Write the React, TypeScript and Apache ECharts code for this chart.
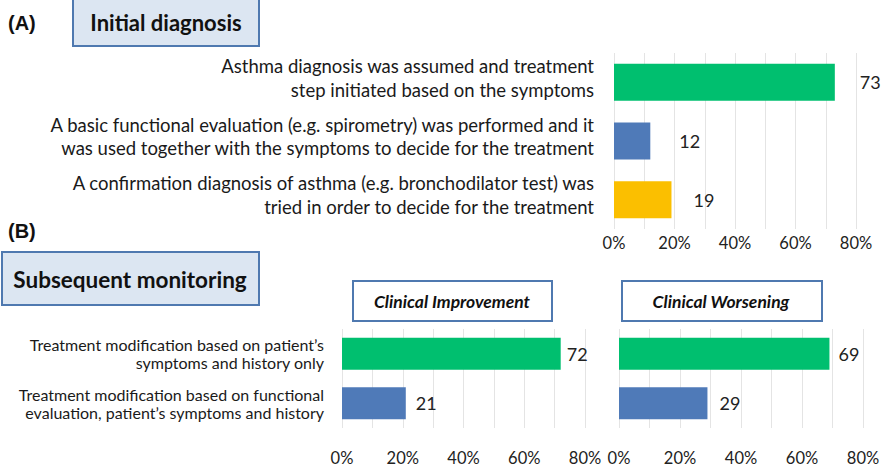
import React, { useEffect, useRef } from "react";
import * as echarts from "echarts";

const categoriesA = [
  "Asthma diagnosis was assumed and treatment\nstep initiated based on the symptoms",
  "A basic functional evaluation (e.g. spirometry) was performed and it\nwas used together with the symptoms to decide for the treatment",
  "A confirmation diagnosis of asthma (e.g. bronchodilator test) was\ntried in order to decide for the treatment",
];
const valuesA = [73, 12, 19];
const labelGapA = [25, 29, 22];
const colorsA = ["#00bf6f", "#4f7ab8", "#fbbf00"];

const categoriesB = [
  "Treatment modification based on patient’s\nsymptoms and history only",
  "Treatment modification based on functional\nevaluation, patient’s symptoms and history",
];
const improvement = [72, 21];
const worsening = [69, 29];
const labelGapImp = [6, 10];
const labelGapWor = [9, 12];
const colorsB = ["#00bf6f", "#4f7ab8"];

const FONT = "Lato";
const BOX_STROKE = "#4f79b0";

function xAxis(gridIndex: number, margin: number) {
  return {
    type: "value",
    gridIndex,
    min: 0,
    max: 80,
    interval: 10,
    axisLine: { show: false },
    axisTick: { show: false },
    splitLine: { show: true, lineStyle: { color: "#e4e4e4", width: 1 } },
    axisLabel: {
      margin,
      fontFamily: FONT,
      fontSize: 16.5,
      color: "#222",
      formatter: (v: number) => (v % 20 === 0 ? v + "%" : ""),
    },
  };
}

function barData(vals: number[], colors: string[], gaps: number[]) {
  return vals.map((v, i) => ({
    value: v,
    itemStyle: { color: colors[i] },
    label: { distance: gaps[i] },
  }));
}

const barLabel = {
  show: true,
  position: "right",
  fontFamily: FONT,
  fontSize: 18,
  color: "#222",
};

export default function App() {
  const ref = useRef<HTMLDivElement>(null);
  useEffect(() => {
    if (!ref.current) return;
    const chart = echarts.init(ref.current, null, { renderer: "svg" });
    chart.setOption({
      animation: false,
      backgroundColor: "#ffffff",
      grid: [
        { left: 614, width: 242, top: 53, height: 176 },
        { left: 342, width: 243, top: 329, height: 100 },
        { left: 619, width: 244, top: 329, height: 100 },
      ],
      xAxis: [xAxis(0, 5), xAxis(1, 21), xAxis(2, 21)],
      yAxis: [
        {
          type: "category",
          gridIndex: 0,
          inverse: true,
          data: categoriesA,
          axisLine: { show: false },
          axisTick: { show: false },
          axisLabel: {
            margin: 20,
            align: "right",
            formatter: (v: string) =>
              v
                .split("\n")
                .map((s) => "{t|" + s + "}")
                .join("\n") + "\n{s| }",
            rich: {
              t: {
                fontFamily: FONT,
                fontSize: 18.5,
                lineHeight: 23.5,
                color: "#1a1a1a",
                align: "right",
              },
              s: { fontSize: 4, lineHeight: 9, align: "right" },
            },
          },
        },
        {
          type: "category",
          gridIndex: 1,
          inverse: true,
          data: categoriesB,
          axisLine: { show: false },
          axisTick: { show: false },
          axisLabel: {
            margin: 18,
            fontFamily: FONT,
            fontSize: 16,
            lineHeight: 18,
            color: "#1a1a1a",
            align: "right",
          },
        },
        {
          type: "category",
          gridIndex: 2,
          inverse: true,
          data: categoriesB,
          axisLine: { show: false },
          axisTick: { show: false },
          axisLabel: { show: false },
        },
      ],
      series: [
        {
          type: "bar",
          xAxisIndex: 0,
          yAxisIndex: 0,
          barWidth: 37,
          data: barData(valuesA, colorsA, labelGapA),
          label: barLabel,
        },
        {
          type: "bar",
          xAxisIndex: 1,
          yAxisIndex: 1,
          barWidth: 32,
          data: barData(improvement, colorsB, labelGapImp),
          label: barLabel,
        },
        {
          type: "bar",
          xAxisIndex: 2,
          yAxisIndex: 2,
          barWidth: 32,
          data: barData(worsening, colorsB, labelGapWor),
          label: barLabel,
        },
      ],
      graphic: [
        {
          type: "text",
          left: 8,
          top: 13,
          style: { text: "(A)", fontFamily: "Liberation Sans", fontWeight: "bold", fontSize: 20, fill: "#111" },
        },
        {
          type: "rect",
          shape: { x: 73, y: -2, width: 186, height: 48 },
          style: { fill: "#dce6f2", stroke: BOX_STROKE, lineWidth: 2 },
        },
        {
          type: "text",
          x: 166,
          y: 22,
          style: {
            text: "Initial diagnosis",
            fontFamily: FONT,
            fontWeight: "bold",
            fontSize: 22,
            fill: "#111",
            align: "center",
            verticalAlign: "middle",
          },
        },
        {
          type: "text",
          left: 8,
          top: 221,
          style: { text: "(B)", fontFamily: "Liberation Sans", fontWeight: "bold", fontSize: 20, fill: "#111" },
        },
        {
          type: "rect",
          shape: { x: 2, y: 252, width: 257, height: 53 },
          style: { fill: "#dce6f2", stroke: BOX_STROKE, lineWidth: 2 },
        },
        {
          type: "text",
          x: 130,
          y: 279,
          style: {
            text: "Subsequent monitoring",
            fontFamily: FONT,
            fontWeight: "bold",
            fontSize: 22.5,
            fill: "#111",
            align: "center",
            verticalAlign: "middle",
          },
        },
        {
          type: "rect",
          shape: { x: 353, y: 281, width: 199, height: 40 },
          style: { fill: "#fff", stroke: BOX_STROKE, lineWidth: 2 },
        },
        {
          type: "text",
          x: 452,
          y: 301,
          style: {
            text: "Clinical Improvement",
            fontFamily: FONT,
            fontWeight: "bold",
            fontStyle: "italic",
            fontSize: 17.5,
            fill: "#111",
            align: "center",
            verticalAlign: "middle",
          },
        },
        {
          type: "rect",
          shape: { x: 622, y: 281, width: 200, height: 40 },
          style: { fill: "#fff", stroke: BOX_STROKE, lineWidth: 2 },
        },
        {
          type: "text",
          x: 721,
          y: 301,
          style: {
            text: "Clinical Worsening",
            fontFamily: FONT,
            fontWeight: "bold",
            fontStyle: "italic",
            fontSize: 17.5,
            fill: "#111",
            align: "center",
            verticalAlign: "middle",
          },
        },
      ],
    });
    return () => chart.dispose();
  }, []);
  return (
    <div
      ref={ref}
      style={{ position: "fixed", left: 0, top: 0, width: 885, height: 466 }}
    />
  );
}
